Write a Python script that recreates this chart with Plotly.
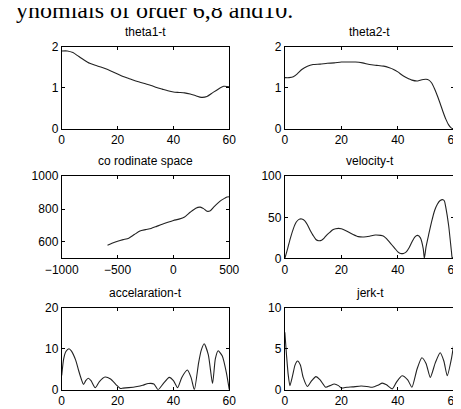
import plotly.graph_objects as go

# ---------------- data ----------------
t1 = [0, 2, 4, 6, 8, 10, 12, 14, 16, 18, 20, 22, 24, 26, 28, 30, 32, 34, 36, 38, 40, 42, 44, 46, 48, 50, 52, 54, 56, 58, 60]
theta1 = [1.9, 1.9, 1.86, 1.77, 1.68, 1.6, 1.55, 1.51, 1.46, 1.4, 1.34, 1.28, 1.23, 1.18, 1.14, 1.1, 1.06, 1.01, 0.97, 0.93,
          0.9, 0.89, 0.88, 0.85, 0.81, 0.77, 0.79, 0.88, 0.97, 1.04, 1.03]

t2 = [0, 1.5, 3, 4.5, 6, 8, 10, 12.5, 15, 17.5, 20, 22.5, 25, 27.5, 30, 32.5, 35, 37, 38.5, 40, 42, 44, 45, 47, 48.5, 50, 51,
      52, 53, 54, 55, 56, 57, 58, 59, 60]
theta2 = [1.25, 1.25, 1.27, 1.35, 1.45, 1.53, 1.57, 1.58, 1.6, 1.61, 1.63, 1.63, 1.63, 1.61, 1.57, 1.55, 1.53, 1.49, 1.45,
          1.39, 1.29, 1.22, 1.19, 1.17, 1.2, 1.21, 1.19, 1.12, 0.98, 0.81, 0.62, 0.42, 0.24, 0.1, 0.02, 0.0]

cx = [-590, -550, -500, -450, -400, -350, -300, -250, -200, -150, -100, -50, 0, 50, 100, 150, 200, 240, 270, 300, 330,
      360, 400, 430, 460, 480, 500]
cy = [580, 592, 604, 614, 623, 645, 667, 675, 682, 695, 708, 720, 731, 739, 752, 781, 806, 812, 803, 787, 790, 812, 838,
      855, 867, 874, 875]

tv = [0, 1, 2, 3, 4, 5, 6, 7, 8, 9, 10, 11, 12, 13, 14, 15, 16, 17, 18, 19, 20, 22, 24, 26, 28, 30, 32, 34, 35, 36, 37,
      38, 39, 40, 41, 42, 43, 44, 45, 46, 47, 48, 49, 49.4, 50, 51, 52, 53, 54, 55, 56, 56.5, 57, 58, 59, 59.3, 60]
vel = [0, 12, 25, 36, 44, 47.5, 48, 46, 41, 34, 28, 23, 21.5, 22, 25, 29, 32, 35, 36, 36.5, 36, 33, 29.5, 26.5, 26, 27,
       28.5, 28, 27, 24, 20, 16, 12, 8, 6, 6, 8, 13, 20, 26, 28, 25, 12, 0, 14, 30, 45, 58, 66, 70.5, 71.5, 70, 62, 40, 8,
       0, 3]

ta = [0, 0.7, 1.5, 2.6, 3.5, 5, 6, 7, 7.8, 8.6, 9.5, 10.5, 12, 13.5, 15.5, 17.5, 19.5, 21, 22, 24, 27, 29, 31, 33,
      34.5, 36.5, 38.5, 40, 41.5, 43, 45, 46.3, 47.5, 49, 50, 51, 52.5, 54, 55, 56, 57.5, 59, 60]
acc = [3.5, 7.5, 9.3, 10, 9.4, 7.2, 4.8, 2.6, 1.3, 2.2, 2.8, 2.2, 0.5, 2.0, 3.1, 2.6, 1.2, 0.3, 0.4, 0.5, 0.8, 1.1,
       1.5, 1.4, 0.0, 1.6, 3.0, 2.2, 0.5, 3.0, 4.8, 3.0, 0.0, 6.5, 9.7, 11.2, 8.5, 1.5, 7.5, 9.5, 8.2, 4.0, 0.0]

tj = [0, 0.6, 1.2, 1.8, 2.8, 3.6, 4.5, 5.5, 6.5, 8, 9.5, 11, 12.5, 14.5, 16, 17.5, 19, 20, 22, 24, 27, 29, 31, 33,
      34.5, 36, 38, 39.5, 41.5, 43.5, 45, 46.8, 48.5, 50, 51.5, 53.3, 55, 56.3, 57.5, 59, 60]
jerk = [7.0, 4.2, 1.8, 0.5, 1.8, 3.0, 3.5, 3.0, 1.5, 0.4, 1.1, 1.6, 1.2, 0.3, 0.5, 0.7, 0.5, 0.2, 0.3, 0.35, 0.45, 0.4,
        0.3, 0.55, 0.8, 0.6, 0.1, 0.9, 1.7, 1.2, 0.3, 2.5, 3.9, 3.2, 1.5, 3.3, 4.5, 3.5, 1.7, 3.8, 6.0]

titles = ["theta1-t", "theta2-t", "co rodinate space", "velocity-t", "accelaration-t", "jerk-t"]
xranges = [[0, 60], [0, 60], [-1000, 500], [0, 60], [0, 60], [0, 60]]
yranges = [[0, 2], [0, 2], [500, 1000], [0, 100], [0, 20], [0, 10]]
xticks = [[0, 20, 40, 60], [0, 20, 40, 60], [-1000, -500, 0, 500], [0, 20, 40, 60], [0, 20, 40, 60], [0, 20, 40, 60]]
yticks = [[0, 1, 2], [0, 1, 2], [600, 800, 1000], [0, 50, 100], [0, 10, 20], [0, 5, 10]]
heading = "ynomials of order 6,8 and10."

series = [(t1, theta1), (t2, theta2), (cx, cy), (tv, vel), (ta, acc), (tj, jerk)]

# ---------------- layout ----------------
W, H = 461, 409
cols = [(39, 217), (276, 456)]
rows = [(33, 118), (167, 252), (303, 388)]

fig = go.Figure()
tickfont = dict(family="Liberation Sans Narrow, Arial Narrow, Liberation Sans, Arial", size=12, color="black")
layout = dict(width=W, height=H, margin=dict(l=0, r=0, t=0, b=0), paper_bgcolor="white", plot_bgcolor="white",
              showlegend=False)
annotations = []
for i, (xs, ys) in enumerate(series):
    r, c = divmod(i, 2)
    n = "" if i == 0 else str(i + 1)
    x0, x1 = cols[c]
    ytop, ybot = rows[r]
    fig.add_trace(go.Scatter(x=xs, y=ys, mode="lines", line=dict(color="#222222", width=1.1, shape="spline", smoothing=0.6),
                             xaxis="x" + n, yaxis="y" + n, hoverinfo="skip"))
    common = dict(showgrid=False, zeroline=False, showline=True, mirror="ticks", linecolor="black", linewidth=1,
                  ticks="inside", ticklen=3, tickcolor="black", tickfont=tickfont)
    layout["xaxis" + n] = dict(domain=[x0 / W, x1 / W], range=xranges[i], tickvals=xticks[i], anchor="y" + n, **common)
    layout["yaxis" + n] = dict(domain=[1 - ybot / H, 1 - ytop / H], range=yranges[i], tickvals=yticks[i],
                               anchor="x" + n, **common)
    annotations.append(dict(text=titles[i], xref="paper", yref="paper", x=(x0 + x1) / 2 / W, y=1 - ytop / H,
                            xanchor="center", yanchor="middle", yshift=15, showarrow=False,
                            font=dict(family="Liberation Sans Narrow, Arial Narrow, Liberation Sans, Arial", size=12,
                                      color="black")))
annotations.append(dict(text=heading, xref="paper", yref="paper", x=287 / W, y=1, xanchor="right", yanchor="middle",
                        yshift=5, showarrow=False,
                        font=dict(family="Liberation Serif, Times New Roman, serif", size=24, color="black")))
layout["annotations"] = annotations
fig.update_layout(**layout)
fig.write_html("out.html")
